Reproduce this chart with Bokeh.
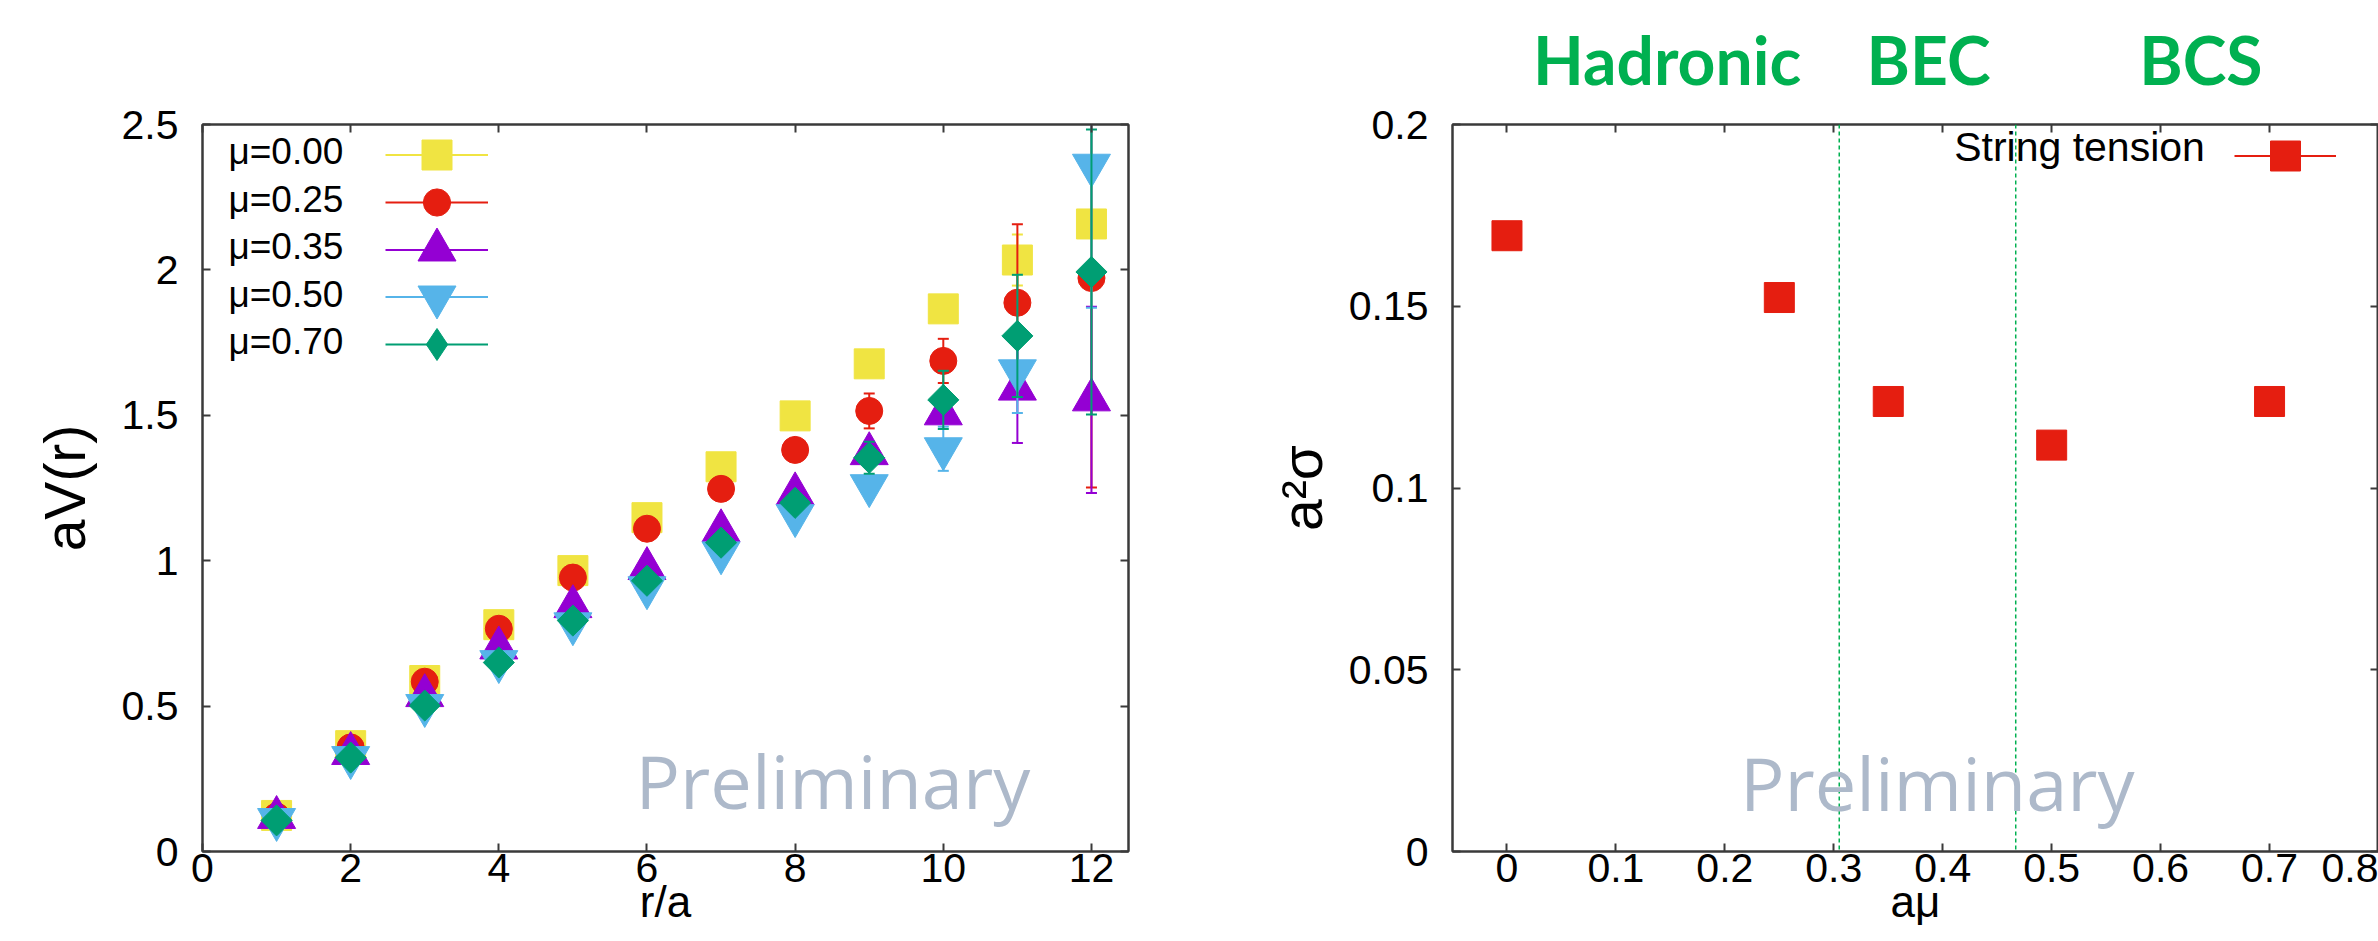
import math
from bokeh.plotting import figure
from bokeh.models import (Range1d, LinearAxis, FixedTicker, CustomJSTickFormatter, Label,
                          Legend, LegendItem, Span, ColumnDataSource)
from bokeh.layouts import row
from bokeh.embed import file_html
from bokeh.resources import INLINE
from bokeh.core.properties import value

# ---------------- data: left panel (static potential) ----------------
r_over_a = [1, 2, 3, 4, 5, 6, 7, 8, 9, 10, 11, 12]

aV_mu000 = [0.124, 0.364, 0.588, 0.780, 0.966, 1.148, 1.323, 1.498, 1.677, 1.866, 2.034, 2.158]
err_mu000 = [0.004, 0.004, 0.005, 0.005, 0.006, 0.007, 0.008, 0.010, 0.012, 0.015, 0.088, 0.030]

aV_mu025 = [0.120, 0.358, 0.584, 0.766, 0.942, 1.110, 1.247, 1.381, 1.515, 1.687, 1.887, 1.972]
err_mu025 = [0.004, 0.004, 0.005, 0.006, 0.007, 0.009, 0.011, 0.015, 0.060, 0.076, 0.270, 0.720]

aV_mu035 = [0.117, 0.337, 0.536, 0.700, 0.842, 0.973, 1.103, 1.230, 1.368, 1.505, 1.590, 1.553]
err_mu035 = [0.004, 0.004, 0.005, 0.006, 0.007, 0.009, 0.011, 0.015, 0.020, 0.030, 0.185, 0.320]

aV_mu050 = [0.110, 0.323, 0.502, 0.653, 0.783, 0.907, 1.027, 1.155, 1.258, 1.385, 1.653, 2.360]
err_mu050 = [0.004, 0.004, 0.005, 0.006, 0.007, 0.009, 0.011, 0.015, 0.020, 0.076, 0.145, 0.490]

aV_mu070 = [0.107, 0.323, 0.502, 0.650, 0.794, 0.931, 1.062, 1.199, 1.354, 1.553, 1.773, 1.993]
err_mu070 = [0.004, 0.004, 0.005, 0.006, 0.007, 0.009, 0.011, 0.015, 0.055, 0.100, 0.210, 0.490]

series_labels = ["\u03bc=0.00", "\u03bc=0.25", "\u03bc=0.35", "\u03bc=0.50", "\u03bc=0.70"]
series_values = [aV_mu000, aV_mu025, aV_mu035, aV_mu050, aV_mu070]
series_errors = [err_mu000, err_mu025, err_mu035, err_mu050, err_mu070]
series_colors = ["#F0E442", "#E51E10", "#9400D3", "#56B4E9", "#009E73"]
series_markers = ["square", "circle", "triangle", "inverted_triangle", "square"]
series_angles = [0.0, 0.0, 0.0, 0.0, math.pi / 4]
series_sizes = [30, 27, 38, 38, 22]
legend_markers = ["square", "circle", "triangle", "inverted_triangle", "diamond"]
legend_glyph_h = [75, 68, 95, 95, 80]   # legend marker size = 0.4 * glyph height

x1_ticks = [0, 2, 4, 6, 8, 10, 12]
y1_ticks = [0, 0.5, 1.0, 1.5, 2.0, 2.5]

# ---------------- data: right panel (string tension) ----------------
a_mu = [0.0, 0.25, 0.35, 0.5, 0.7]
a2_sigma = [0.1694, 0.1524, 0.1238, 0.1118, 0.1238]
a2_sigma_err = [0.002, 0.002, 0.003, 0.003, 0.003]
phase_bounds = [0.305, 0.467]
phase_names = ["Hadronic", "BEC", "BCS"]
phase_name_x = [0.147, 0.387, 0.637]

x2_ticks = [0, 0.1, 0.2, 0.3, 0.4, 0.5, 0.6, 0.7, 0.8]
y2_ticks = [0, 0.05, 0.1, 0.15, 0.2]

AXIS_COLOR = "#3a3a3a"
TICK_FONT = "Liberation Sans"
GREEN = "#00B050"
GREY = "#ADB9CA"
FRAME_TOP = 124
FRAME_BOTTOM = 851


def style_axis(ax, ticks, show_labels, standoff):
    ax.ticker = FixedTicker(ticks=ticks)
    ax.axis_line_color = AXIS_COLOR
    ax.axis_line_width = 2
    ax.major_tick_in = 8
    ax.major_tick_out = 0
    ax.major_tick_line_color = AXIS_COLOR
    ax.major_tick_line_width = 2
    ax.minor_tick_line_color = None
    if show_labels:
        ax.formatter = CustomJSTickFormatter(code="return Number(tick.toFixed(4)).toString();")
        ax.major_label_text_font = TICK_FONT
        ax.major_label_text_font_size = "41px"
        ax.major_label_text_color = "black"
        ax.major_label_standoff = standoff
    else:
        ax.formatter = CustomJSTickFormatter(code="return '';")
        ax.major_label_text_font_size = "1px"
        ax.major_label_standoff = 0


def axis_title(ax, text, size, standoff):
    ax.axis_label = text
    ax.axis_label_text_font = TICK_FONT
    ax.axis_label_text_font_size = size
    ax.axis_label_text_font_style = "normal"
    ax.axis_label_text_color = "black"
    ax.axis_label_standoff = standoff


def base_fig(width, xr, yr, left, right):
    p = figure(width=width, height=941, x_range=xr, y_range=yr,
               output_backend="svg", toolbar_location=None,
               min_border_left=left, min_border_right=right,
               min_border_top=FRAME_TOP, min_border_bottom=941 - FRAME_BOTTOM)
    p.grid.visible = False
    p.outline_line_color = AXIS_COLOR
    p.outline_line_width = 2
    p.background_fill_color = "white"
    p.border_fill_color = "white"
    return p


def key_entry(p, renderers, x_off, center_y, gh, gw):
    leg = Legend(items=[LegendItem(label=value(""), renderers=renderers)],
                 location=(x_off, FRAME_BOTTOM - (center_y + gh / 2.0)),
                 glyph_width=gw, glyph_height=gh, padding=0, margin=0, spacing=0,
                 label_standoff=0, label_width=0, label_height=0,
                 border_line_color=None, background_fill_alpha=0,
                 label_text_font_size="1px")
    p.add_layout(leg)


# ================= left panel =================
p1 = base_fig(1170, Range1d(0, 12.5), Range1d(0, 2.5), 202, 42)
style_axis(p1.xaxis[0], x1_ticks, True, 2)
style_axis(p1.yaxis[0], y1_ticks, True, 24)
axis_title(p1.xaxis[0], "r/a", "44px", -8)
axis_title(p1.yaxis[0], "aV(r)", "57px", 22)
ax_top = LinearAxis()
style_axis(ax_top, x1_ticks, False, 0)
p1.add_layout(ax_top, "above")
ax_right = LinearAxis()
style_axis(ax_right, y1_ticks, False, 0)
p1.add_layout(ax_right, "right")

for i, (lab, col, mk, ang, sz, ys, es, lmk, gh) in enumerate(zip(
        series_labels, series_colors, series_markers, series_angles, series_sizes,
        series_values, series_errors, legend_markers, legend_glyph_h)):
    lo = [y - e for y, e in zip(ys, es)]
    hi = [y + e for y, e in zip(ys, es)]
    src = ColumnDataSource(dict(x=r_over_a, y=ys, lo=lo, hi=hi))
    seg = p1.segment(x0="x", y0="lo", x1="x", y1="hi", source=src, line_color=col, line_width=2)
    p1.scatter(x="x", y="lo", source=src, marker="dash", size=11, line_color=col, line_width=2)
    p1.scatter(x="x", y="hi", source=src, marker="dash", size=11, line_color=col, line_width=2)
    sc = p1.scatter(x="x", y="y", source=src, marker=mk, size=sz, angle=ang,
                    fill_color=col, line_color=col, line_width=1)
    # key swatch renderer (same style, no visible points)
    key_r = p1.scatter(x=[float("nan")], y=[float("nan")], marker=lmk, size=sz,
                       fill_color=col, line_color=col, line_width=1)
    key_entry(p1, [seg, key_r], 183, 154 + 47.5 * i, gh, 103)
    p1.add_layout(Label(x=0.35, y=(FRAME_BOTTOM - (151 + 47.5 * i)) / 291.0, text=lab,
                        text_font=TICK_FONT, text_font_size="37px", text_color="black",
                        text_align="left", text_baseline="middle"))

p1.add_layout(Label(x=8.51, y=0.245, text="Preliminary",
                    text_font="Open Sans", text_font_size="74px", text_color=GREY,
                    text_align="center", text_baseline="middle"))

# ================= right panel =================
p2 = base_fig(1208, Range1d(-0.05, 0.8), Range1d(0, 0.2), 282, 0)
style_axis(p2.xaxis[0], x2_ticks, True, 2)
style_axis(p2.yaxis[0], y2_ticks, True, 24)
axis_title(p2.xaxis[0], "a\u03bc", "44px", -8)
axis_title(p2.yaxis[0], "a\u00b2\u03c3", "57px", 12)
ax_top2 = LinearAxis()
style_axis(ax_top2, x2_ticks, False, 0)
p2.add_layout(ax_top2, "above")
ax_right2 = LinearAxis()
style_axis(ax_right2, y2_ticks, False, 0)
p2.add_layout(ax_right2, "right")

# phase names, positioned by the x scale through an extra top axis
ax_phase = LinearAxis(ticker=FixedTicker(ticks=phase_name_x),
                      formatter=CustomJSTickFormatter(
                          args=dict(pos=phase_name_x, names=phase_names),
                          code="for (let i = 0; i < pos.length; i++) {"
                               " if (Math.abs(tick - pos[i]) < 1e-6) return names[i]; }"
                               " return '';"))
ax_phase.axis_line_color = None
ax_phase.major_tick_line_color = None
ax_phase.minor_tick_line_color = None
ax_phase.major_tick_in = 0
ax_phase.major_tick_out = 0
ax_phase.major_label_text_font = "Lato"
ax_phase.major_label_text_font_style = "bold"
ax_phase.major_label_text_font_size = "66px"
ax_phase.major_label_text_color = GREEN
ax_phase.major_label_standoff = 26
p2.add_layout(ax_phase, "above")

for xb in phase_bounds:
    p2.add_layout(Span(location=xb, dimension="height", line_color=GREEN,
                       line_width=1.5, line_dash="4 3"))

src2 = ColumnDataSource(dict(x=a_mu, y=a2_sigma,
                             lo=[y - e for y, e in zip(a2_sigma, a2_sigma_err)],
                             hi=[y + e for y, e in zip(a2_sigma, a2_sigma_err)]))
seg2 = p2.segment(x0="x", y0="lo", x1="x", y1="hi", source=src2, line_color="#E51E10", line_width=2)
sc2 = p2.scatter(x="x", y="y", source=src2, marker="square", size=30,
                 fill_color="#E51E10", line_color="#E51E10")
key_entry(p2, [seg2, sc2], 782, 155, 75, 102)
p2.add_layout(Label(x=0.6406, y=0.1937, text="String tension",
                    text_font=TICK_FONT, text_font_size="41px", text_color="black",
                    text_align="right", text_baseline="middle"))

p2.add_layout(Label(x=0.395, y=0.0190, text="Preliminary",
                    text_font="Open Sans", text_font_size="74px", text_color=GREY,
                    text_align="center", text_baseline="middle"))

layout = row(p1, p2)
open("out.html", "w").write(file_html(layout, INLINE))
